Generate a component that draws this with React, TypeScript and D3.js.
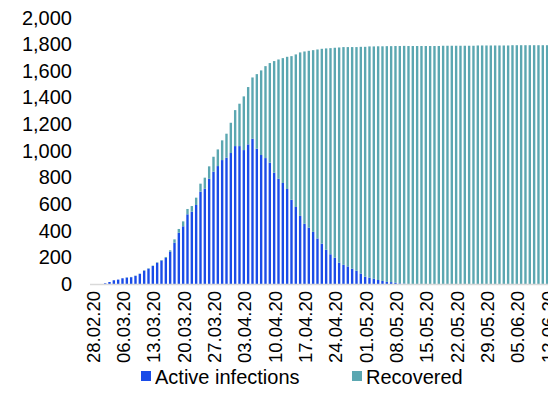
import React from 'react';
import * as d3 from 'd3';

const startDate = new Date(2020, 1, 28);

// daily values, starting 28.02.20
const active = [
  0, 0, 0, 5, 15, 28, 33, 43, 48, 51,
  61, 76, 100, 115, 135, 159, 176, 196, 243, 310,
  385, 433, 523, 543, 593, 693, 715, 790, 843, 885,
  930, 948, 983, 1035, 1035, 1005, 1048, 1090, 1015, 968,
  945, 910, 835, 790, 758, 713, 632, 578, 511, 452,
  423, 391, 342, 303, 257, 223, 197, 160, 144, 132,
  115, 99, 78, 55, 48, 40, 30, 23, 16, 14,
  9, 5, 3, 0, 0, 0, 0, 0, 0, 0,
  0, 0, 0, 0, 0, 0, 0, 0, 0, 0,
  0, 0, 0, 0, 0, 0, 0, 0, 0, 0,
  0, 0, 0, 0, 0, 0, 0, 0,
];

const recovered = [
  0, 0, 0, 0, 0, 0, 0, 0, 2, 2,
  2, 2, 3, 3, 3, 4, 4, 7, 10, 25,
  28, 37, 40, 42, 55, 60, 83, 93, 112, 125,
  148, 180, 227, 270, 318, 403, 430, 460, 560, 635,
  690, 748, 838, 895, 937, 992, 1078, 1145, 1227, 1293,
  1327, 1364, 1418, 1462, 1511, 1547, 1576, 1615, 1634, 1646,
  1663, 1679, 1702, 1725, 1735, 1743, 1754, 1761, 1769, 1771,
  1777, 1781, 1784, 1786, 1786, 1786, 1786, 1786, 1786, 1786,
  1786, 1788, 1788, 1788, 1788, 1788, 1788, 1788, 1788, 1790,
  1790, 1790, 1790, 1790, 1790, 1790, 1790, 1792, 1792, 1792,
  1792, 1792, 1792, 1792, 1792, 1792, 1792, 1792,
];

const yTicks = [0, 200, 400, 600, 800, 1000, 1200, 1400, 1600, 1800, 2000];
const seriesNames = ['Active infections', 'Recovered'];
const colors = ['#1A4CE8', '#5BA7B1'];

const fmtDate = d3.timeFormat('%d.%m.%y');

type Row = { date: string; active: number; recovered: number };

export default function App() {
  const width = 548;
  const height = 413;
  const margin = { left: 90, top: 17.5, bottom: 284 };
  const step = 4.333;

  const rows: Row[] = active.map((a, i) => ({
    date: fmtDate(d3.timeDay.offset(startDate, i)),
    active: a,
    recovered: recovered[i],
  }));

  const x = d3.scaleBand<string>()
    .domain(rows.map(r => r.date))
    .range([margin.left, margin.left + rows.length * step])
    .paddingInner(0.45)
    .paddingOuter(0.225);

  const y = d3.scaleLinear()
    .domain([0, 2000])
    .range([margin.bottom, margin.top]);

  const stack = d3.stack<Row>().keys(['active', 'recovered']);
  const layers = stack(rows);

  const fmt = d3.format(',');
  const font = '"Liberation Sans", Arial, sans-serif';
  const labelled = rows.filter((_, i) => i % 7 === 0);

  return (
    <svg
      width={width}
      height={height}
      style={{ position: 'absolute', left: 0, top: 0, background: '#fff' }}
      fontFamily={font}
    >
      {/* y axis labels */}
      <g fontSize={20} fill="#000" textAnchor="end">
        {yTicks.map(t => (
          <text key={t} x={72} y={y(t)} dominantBaseline="central">{fmt(t)}</text>
        ))}
      </g>

      {/* bars */}
      {layers.map((layer, li) => (
        <g key={layer.key} fill={colors[li]}>
          {layer.map((d, i) => {
            const h = y(d[0]) - y(d[1]);
            if (h <= 0) return null;
            return (
              <rect
                key={i}
                x={x(d.data.date)}
                y={y(d[1])}
                width={x.bandwidth()}
                height={h}
              />
            );
          })}
        </g>
      ))}

      {/* category axis */}
      <line x1={margin.left} x2={width + 20} y1={y(0) + 0.5} y2={y(0) + 0.5} stroke="#d9d9d9" strokeWidth={1.5} />
      <g fontSize={18.5} fill="#000" textAnchor="end">
        {labelled.map(r => {
          const cx = (x(r.date) ?? 0) + x.bandwidth() / 2 + 1;
          return (
            <text key={r.date} transform={`translate(${cx},291) rotate(-90)`} dominantBaseline="central">
              {r.date}
            </text>
          );
        })}
      </g>

      {/* legend */}
      <g fontSize={20} fill="#000">
        <rect x={141} y={371} width={10} height={10} fill={colors[0]} />
        <text x={155} y={377} dominantBaseline="central">{seriesNames[0]}</text>
        <rect x={352} y={371} width={10} height={10} fill={colors[1]} />
        <text x={366} y={377} dominantBaseline="central">{seriesNames[1]}</text>
      </g>
    </svg>
  );
}
